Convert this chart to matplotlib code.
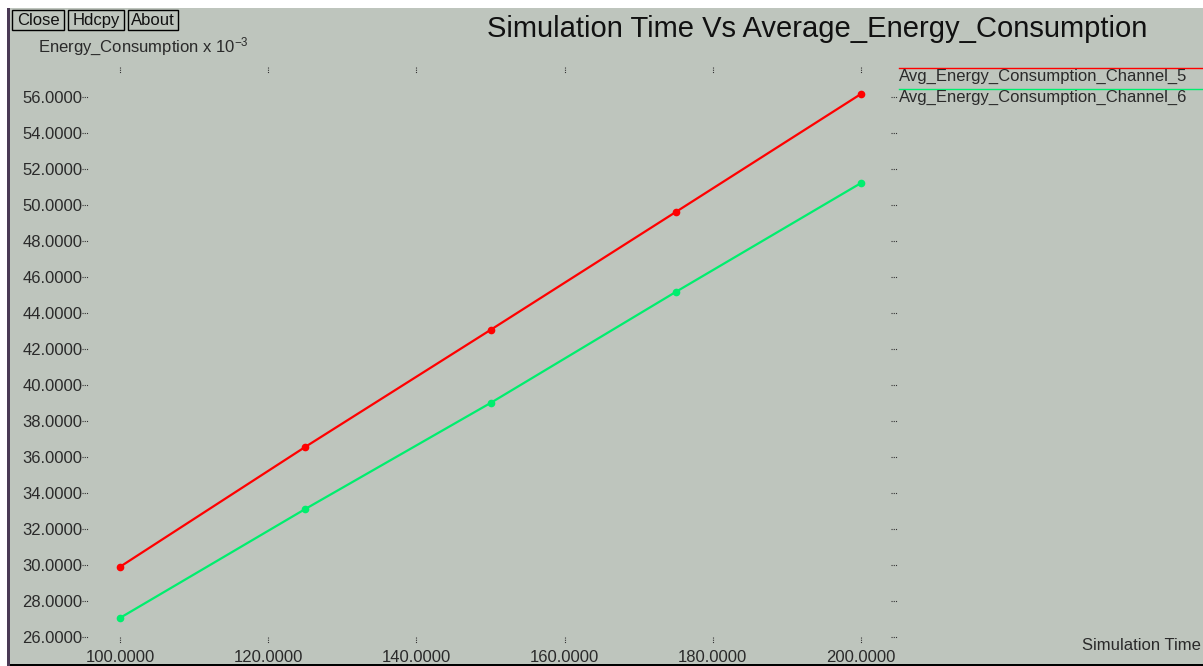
import matplotlib
matplotlib.use("Agg")
import matplotlib.pyplot as plt
from matplotlib.patches import Rectangle

W, H = 1203, 666
BG = "#bec5bd"

sim_time = [100, 125, 150, 175, 200]
ch5 = [29.9, 36.56, 43.06, 49.61, 56.17]
ch6 = [27.06, 33.11, 39.0, 45.17, 51.22]
xticks = [100, 120, 140, 160, 180, 200]
yticks = [26, 28, 30, 32, 34, 36, 38, 40, 42, 44, 46, 48, 50, 52, 54, 56]
series_names = ["Avg_Energy_Consumption_Channel_5", "Avg_Energy_Consumption_Channel_6"]
series_colors = ["#ff0000", "#00ee6e"]

plt.rcParams['font.family'] = ['Liberation Sans', 'DejaVu Sans']
plt.rcParams['mathtext.fontset'] = 'custom'
plt.rcParams['mathtext.rm'] = 'Liberation Sans'
plt.rcParams['mathtext.it'] = 'Liberation Sans'
FS = 12
TXT = "#2a2a2a"

fig = plt.figure(figsize=(W / 100, H / 100), dpi=100)
fig.patch.set_facecolor(BG)

def fx(px):
    return px / W

def fy(py):
    return 1 - py / H

# frame decorations
fig.patches.append(Rectangle((0, fy(8)), 1, 8 / H, transform=fig.transFigure, facecolor="white", edgecolor="none"))
fig.patches.append(Rectangle((0, 0), fx(7), 1, transform=fig.transFigure, facecolor="white", edgecolor="none"))
fig.patches.append(Rectangle((fx(7), 0), fx(3), fy(8), transform=fig.transFigure, facecolor="#4a3a55", edgecolor="none"))
fig.patches.append(Rectangle((fx(10), 0), 1, 2 / H, transform=fig.transFigure, facecolor="black", edgecolor="none"))

# axes
L, R, T, B = 88, 891, 68, 640
ax = fig.add_axes([fx(L), fy(B), (R - L) / W, (B - T) / H])
ax.set_facecolor(BG)
for s in ax.spines.values():
    s.set_visible(False)

pxx = (861 - 120) / 100.0
pxy = (637 - 97) / 30.0
ax.set_xlim(100 - (120 - L) / pxx, 200 + (R - 861) / pxx)
ax.set_ylim(26 - (B - 637) / pxy, 56 + (97 - T) / pxy)

ax.set_xticks(xticks, ["%.4f" % v for v in xticks])
ax.set_yticks(yticks, ["%.4f" % v for v in yticks])
ax.tick_params(axis='x', length=0, pad=7, labelsize=FS, labelcolor=TXT)
ax.tick_params(axis='y', length=0, pad=4, labelsize=FS, labelcolor=TXT)

dot = (0, (1, 1))
tcol = "#333333"
aw, ah = R - L, B - T
ax.hlines(yticks, -6 / aw, 0, transform=ax.get_yaxis_transform(), colors=tcol, linestyles=dot, lw=0.8, clip_on=False)
ax.hlines(yticks, 1 + 0 / aw, 1 + 6 / aw, transform=ax.get_yaxis_transform(), colors=tcol, linestyles=dot, lw=0.8, clip_on=False)
ax.vlines(xticks, 1 + 1 / ah, 1 - 5 / ah, transform=ax.get_xaxis_transform(), colors=tcol, linestyles=dot, lw=0.8, clip_on=False)
ax.vlines(xticks, 3 / ah, -3 / ah, transform=ax.get_xaxis_transform(), colors=tcol, linestyles=dot, lw=0.8, clip_on=False)

for ys, c in zip([ch5, ch6], series_colors):
    ax.plot(sim_time, ys, color=c, lw=1.6, marker='o', markersize=4.5, clip_on=False)

# legend
for i, (name, c) in enumerate(zip(series_names, series_colors)):
    yl = 68 + i * 21
    fig.add_artist(plt.Line2D([fx(899), 1], [fy(yl), fy(yl)], transform=fig.transFigure, color=c, lw=1))
    fig.text(fx(899), fy(yl + 8), name, fontsize=FS, va='center', ha='left', color=TXT)

# title & labels
fig.text(fx(817), fy(29), "Simulation Time Vs Average_Energy_Consumption", fontsize=21, ha='center', va='center', color="#111111")
fig.text(fx(38), fy(47), "Energy_Consumption x 10$^{-3}$", fontsize=FS, ha='left', va='center', color=TXT)
fig.text(fx(1201), fy(645), "Simulation Time", fontsize=FS, ha='right', va='center', color=TXT)

# buttons
for label, x0, x1 in [("Close", 12, 64), ("Hdcpy", 68, 124), ("About", 128, 178)]:
    fig.patches.append(Rectangle((fx(x0), fy(30)), (x1 - x0) / W, 20 / H, transform=fig.transFigure,
                                 facecolor=BG, edgecolor="black", lw=1))
    fig.text(fx((x0 + x1) / 2), fy(20.5), label, fontsize=FS, ha='center', va='center', color="#111111")

fig.savefig("out.png", dpi=100, facecolor=BG)
